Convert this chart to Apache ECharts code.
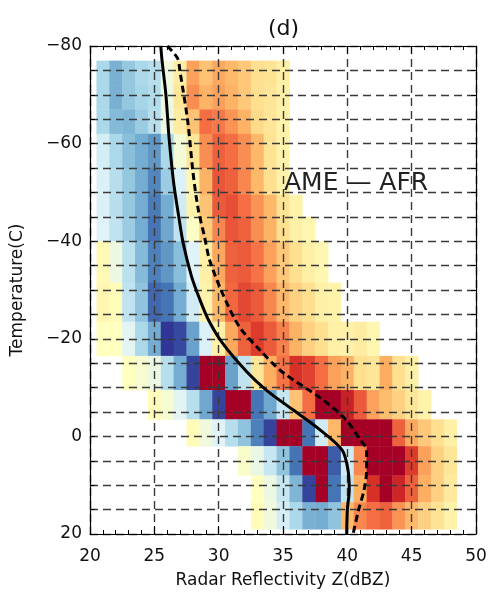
<!DOCTYPE html>
<html>
<head>
<meta charset="utf-8">
<script src="https://cdn.jsdelivr.net/npm/echarts@6/dist/echarts.min.js"></script>
<style>
  html, body { margin: 0; padding: 0; background: #ffffff; }
  #chart { width: 490px; height: 600px; }
</style>
</head>
<body>
<div id="chart"></div>
<script>
// Temperature bin edges (deg C), top to bottom
const rowEdges = [-77, -72, -67, -62, -55, -49.5, -45, -40, -31.5, -23.5, -16.5, -9.5, -3.5, 2, 8, 13.5, 19];
// First reflectivity bin (dBZ, bin centre) of each temperature row
const rowStartBin = [21, 21, 21, 21, 21, 21, 21, 21, 21, 21, 23, 25, 28, 32, 33, 33];
// Frequency difference AME - AFR, one 1-dBZ bin per entry
const rowDiff = [
  [-2.0, -2.9, -2.4, -2.0, -1.8, -0.5, 0.6, 2.2, 1.6, 2.1, 1.8, 1.5, 1.0, 0.9, 0.5],
  [-2.0, -2.9, -2.4, -2.1, -1.9, -0.6, 0.8, 2.5, 1.9, 2.2, 1.9, 1.5, 1.0, 0.8, 0.5],
  [-2.0, -2.7, -2.8, -2.3, -1.8, -0.6, 0.6, 1.6, 3.0, 2.8, 2.4, 1.9, 1.1, 0.8, 0.4],
  [-1.2, -2.0, -2.6, -3.0, -3.4, -2.0, -0.4, 0.8, 2.5, 3.2, 3.0, 2.5, 1.8, 0.9, 0.4],
  [-1.1, -1.8, -2.4, -3.0, -3.7, -2.3, -1.1, 0.3, 1.9, 3.4, 3.2, 2.6, 1.8, 1.0, 0.4],
  [-1.1, -1.8, -2.4, -3.0, -3.9, -3.0, -1.3, 0.4, 1.6, 3.3, 3.5, 3.0, 2.4, 1.8, 0.9, 0.4],
  [-1.0, -1.6, -2.3, -3.0, -4.0, -3.1, -1.6, -0.1, 1.4, 2.6, 3.4, 3.2, 2.5, 1.9, 1.0, 0.5, 0.3],
  [0.2, -0.6, -1.7, -2.7, -3.8, -3.4, -2.6, -1.0, 0.5, 2.1, 3.2, 3.3, 2.9, 2.2, 1.5, 1.0, 0.5, 0.3],
  [0.3, 0.1, -1.6, -2.5, -4.2, -4.0, -3.0, -1.3, 0.4, 1.8, 3.1, 3.6, 3.3, 2.6, 1.8, 1.3, 1.0, 0.5, 0.4],
  [0.0, 0.0, -0.9, -2.0, -3.0, -5.0, -4.7, -3.2, -1.1, 0.5, 2.1, 3.2, 3.8, 3.3, 2.7, 1.9, 1.3, 1.0, 0.5, 0.4, 0.6, 0.3],
  [0.0, -0.3, -0.6, -1.8, -3.0, -4.8, 5.0, 5.0, -3.2, -1.6, 0.8, 2.0, 2.9, 4.0, 3.7, 3.0, 2.2, 1.9, 1.0, 0.8, 2.0, 1.0, 0.5],
  [0.1, -0.3, -0.9, -1.8, -3.1, -4.8, 5.0, 5.0, -4.0, -3.1, -1.5, 1.6, 3.0, 5.0, 5.0, 4.3, 3.3, 2.2, 1.7, 1.3, 0.8, 0.4],
  [0.1, -0.5, -1.0, -1.8, -2.5, -3.8, -4.8, 5.0, 5.0, -4.0, -1.3, 1.8, 5.0, 5.0, 5.0, 5.0, 3.2, 2.1, 1.5, 1.0, 0.5],
  [-0.2, -0.7, -1.5, -2.5, -4.0, 5.0, 5.0, -4.4, -1.3, 2.6, 5.0, 5.0, 5.0, 3.8, 2.2, 1.3, 0.8],
  [0.0, -0.6, -1.5, -2.8, -4.8, 5.0, -4.0, -1.6, 2.0, 4.0, 5.0, 4.2, 3.2, 2.0, 1.3, 0.7],
  [0.1, -0.5, -1.2, -2.0, -2.9, -3.0, -2.5, 1.8, 2.6, 3.0, 3.2, 2.4, 1.8, 1.3, 0.9, 0.4]
];

// Mean reflectivity profiles
const ameZ = [25.5, 25.6, 25.9, 26.15, 26.5, 26.9, 27.25, 27.9, 28.5, 29.2, 30.3, 32.2, 33.7, 35.8, 37.9, 39.6, 40.05, 40.15, 40.0, 39.95];
const ameT = [-80, -77, -70, -61, -52, -45, -39.5, -32.7, -28.3, -23.9, -19.1, -13.2, -9.5, -5.4, -1.3, 2.8, 6.9, 11, 15, 20];
const afrZ = [26.0, 26.8, 27.0, 27.6, 28.0, 28.4, 28.9, 29.3, 30.3, 31.6, 33.2, 34.9, 38.1, 39.9, 41.0, 41.5, 41.5, 41.3, 40.85, 40.45];
const afrT = [-80, -77.5, -74.7, -64.5, -54.2, -46.7, -40.9, -36.1, -29.3, -22.5, -17.7, -13.3, -7.5, -3.4, 0.7, 2.8, 6.9, 11, 15.3, 20];

// Axis ranges and labels
const zRange = [20, 50];
const zStep = 5;
const tRange = [-80, 20];
const tStep = 5;
const tLabelStep = 20;

const palette = ['#313695', '#4575b4', '#74add1', '#abd9e9', '#e0f3f8', '#ffffbf',
                 '#fee090', '#fdae61', '#f46d43', '#d73027', '#a50026'];

// Build cell records: [bin centre, top temperature, bottom temperature, value]
const cells = [];
rowDiff.forEach((vals, r) => {
  vals.forEach((v, i) => {
    cells.push([rowStartBin[r] + i, rowEdges[r], rowEdges[r + 1], v]);
  });
});

const ameLine = ameZ.map((z, i) => [z, ameT[i]]);
const afrLine = afrZ.map((z, i) => [z, afrT[i]]);

const labelFont = { fontFamily: 'DejaVu Sans', fontSize: 17, color: '#111' };
const gridDash = { color: '#3a3a3a', width: 1.4, type: [8, 5] };
const frame = { show: true, onZero: false, lineStyle: { color: '#000', width: 1.2 } };

const chart = echarts.init(document.getElementById('chart'), null, { renderer: 'canvas' });

chart.setOption({
  animation: false,
  backgroundColor: '#ffffff',
  grid: { left: 90, top: 46, width: 386, height: 488, containLabel: false },
  graphic: [
    { type: 'text', left: 283 - 15, top: 18,
      style: { text: '(d)', font: '22px "DejaVu Sans"', fill: '#111' } },
    { type: 'text', left: 284, top: 171, z: 10,
      style: { text: 'AME — AFR', font: '25px "DejaVu Sans"', fill: '#222' } }
  ],
  visualMap: {
    show: false, type: 'continuous', min: -5, max: 5, dimension: 3, seriesIndex: 0,
    inRange: { color: palette }
  },
  xAxis: [
    {
      type: 'value', position: 'bottom', min: zRange[0], max: zRange[1], interval: zStep, z: 3,
      name: 'Radar Reflectivity Z(dBZ)', nameLocation: 'middle', nameGap: 38,
      nameTextStyle: Object.assign({}, labelFont, { fontSize: 17 }),
      axisLine: frame,
      axisTick: { show: true, inside: true, length: 8, lineStyle: { color: '#000' } },
      minorTick: { show: true, splitNumber: 5, length: 4, lineStyle: { color: '#000' } },
      axisLabel: Object.assign({ margin: 14 }, labelFont),
      splitLine: { show: true, lineStyle: gridDash }
    },
    {
      type: 'value', position: 'top', min: zRange[0], max: zRange[1], interval: zStep, z: 3,
      axisLine: frame,
      axisTick: { show: true, inside: true, length: 8, lineStyle: { color: '#000' } },
      minorTick: { show: true, splitNumber: 5, length: 4, lineStyle: { color: '#000' } },
      axisLabel: { show: false },
      splitLine: { show: false }
    }
  ],
  yAxis: [
    {
      type: 'value', position: 'left', inverse: true, min: tRange[0], max: tRange[1], interval: tStep, z: 3,
      name: 'Temperature(C)', nameLocation: 'middle', nameGap: 64,
      nameTextStyle: Object.assign({}, labelFont, { fontSize: 17 }),
      axisLine: frame,
      axisTick: { show: true, inside: true, length: 5, lineStyle: { color: '#000' } },
      axisLabel: Object.assign({
        margin: 8,
        formatter: v => (v % tLabelStep === 0 ? (v < 0 ? '\u2212' + Math.abs(v) : String(v)) : '')
      }, labelFont),
      splitLine: { show: true, lineStyle: gridDash }
    },
    {
      type: 'value', position: 'right', inverse: true, min: tRange[0], max: tRange[1], interval: tStep, z: 3,
      axisLine: frame,
      axisTick: { show: true, inside: true, length: 5, lineStyle: { color: '#000' } },
      axisLabel: { show: false },
      splitLine: { show: false }
    }
  ],
  series: [
    {
      type: 'custom', xAxisIndex: 0, yAxisIndex: 0, z: 1,
      dimensions: ['z', 'tTop', 'tBottom', 'diff'],
      encode: { x: 0, y: [1, 2] },
      data: cells,
      renderItem: function (params, api) {
        const z = api.value(0);
        const p0 = api.coord([z - 0.5, api.value(1)]);
        const p1 = api.coord([z + 0.5, api.value(2)]);
        const c = api.visual('color');
        return {
          type: 'rect',
          shape: {
            x: Math.min(p0[0], p1[0]), y: Math.min(p0[1], p1[1]),
            width: Math.abs(p1[0] - p0[0]) + 0.4, height: Math.abs(p1[1] - p0[1]) + 0.4
          },
          style: { fill: c }
        };
      }
    },
    {
      name: 'AME', type: 'line', xAxisIndex: 0, yAxisIndex: 0, z: 6,
      data: ameLine, showSymbol: false, symbol: 'none', smooth: 0.3,
      lineStyle: { color: '#000', width: 3 }
    },
    {
      name: 'AFR', type: 'line', xAxisIndex: 0, yAxisIndex: 0, z: 6,
      data: afrLine, showSymbol: false, symbol: 'none', smooth: 0.3,
      lineStyle: { color: '#000', width: 3, type: [7, 4] }
    }
  ]
});
</script>
</body>
</html>
